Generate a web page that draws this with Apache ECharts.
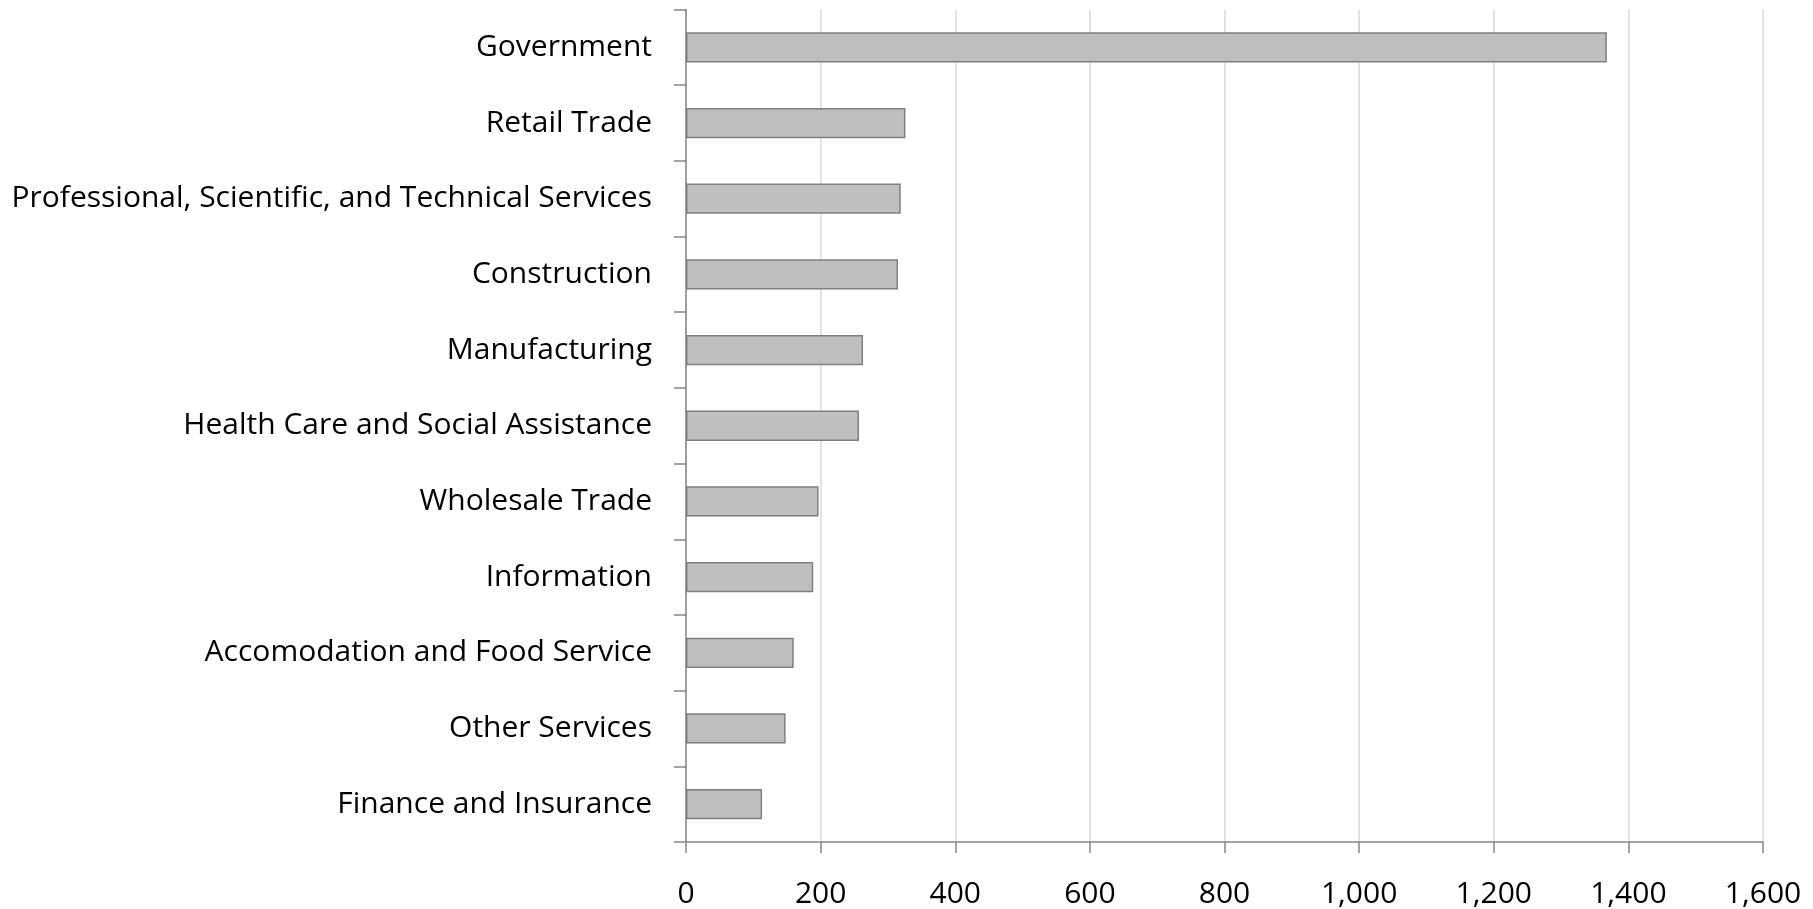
<!DOCTYPE html>
<html>
<head>
<meta charset="utf-8">
<script src="https://cdn.jsdelivr.net/npm/echarts@6/dist/echarts.min.js"></script>
<style>
  html, body { margin: 0; padding: 0; background: #ffffff; }
  #chart { width: 1813px; height: 909px; }
</style>
</head>
<body>
<div id="chart"></div>
<script>
// Industries, listed top to bottom
const industries = [
  'Government',
  'Retail Trade',
  'Professional, Scientific, and Technical Services',
  'Construction',
  'Manufacturing',
  'Health Care and Social Assistance',
  'Wholesale Trade',
  'Information',
  'Accomodation and Food Service',
  'Other Services',
  'Finance and Insurance'
];

// Value per industry
const values = [1368, 326, 319, 315, 263, 257, 197, 189, 160, 148, 113];

// Value axis range
const axisMin = 0;
const axisMax = 1600;
const axisStep = 200;

const chart = echarts.init(document.getElementById('chart'), null, { renderer: 'canvas' });
const font = '"Open Sans", "Noto Sans", sans-serif';

chart.setOption({
  animation: false,
  backgroundColor: '#ffffff',
  grid: { left: 686, right: 50, top: 9.5, bottom: 64, containLabel: false },
  xAxis: {
    type: 'value',
    min: axisMin,
    max: axisMax,
    interval: axisStep,
    axisLine: { show: true, lineStyle: { color: '#868686', width: 1.5 } },
    axisTick: { show: true, length: 11, lineStyle: { color: '#868686', width: 1.5 } },
    axisLabel: {
      margin: 37,
      color: '#000000',
      fontFamily: font,
      fontSize: 30,
      formatter: v => v.toLocaleString('en-US')
    },
    splitLine: { show: true, lineStyle: { color: '#d9d9d9', width: 1.5 } }
  },
  yAxis: {
    type: 'category',
    data: industries,
    inverse: true,
    axisLine: { show: true, lineStyle: { color: '#868686', width: 1.5 } },
    axisTick: { show: true, length: 12, lineStyle: { color: '#868686', width: 1.5 } },
    axisLabel: {
      margin: 34,
      color: '#000000',
      fontFamily: font,
      fontSize: 30,
      padding: [8, 0, 0, 0]
    },
    splitLine: { show: false }
  },
  series: [{
    type: 'bar',
    data: values,
    barWidth: '40%',
    itemStyle: { color: '#bfbfbf', borderColor: '#7f7f7f', borderWidth: 1.5 }
  }]
});
</script>
</body>
</html>
